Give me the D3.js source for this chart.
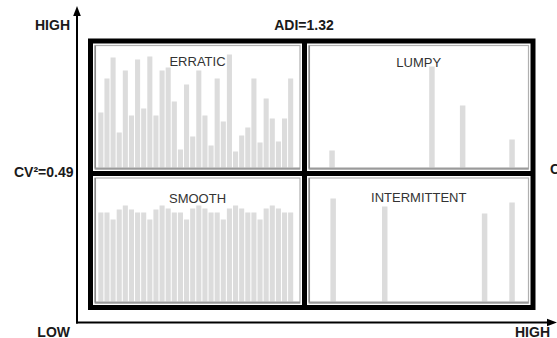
<!DOCTYPE html>
<html><head><meta charset="utf-8">
<script src="https://cdn.jsdelivr.net/npm/d3@7"></script>
<style>body{margin:0;background:#fff}svg{display:block}text{font-family:"Liberation Sans",Arial,Helvetica,sans-serif}</style>
</head><body>
<script>
// ---- data ----
const periods = d3.range(1, 33);
const erraticValues = [55,89,110,35,97,52,108,59,111,52,97,100,66,18,83,31,97,52,22,89,46,113,16,32,40,89,25,69,49,26,49,89];
const smoothValues  = [89,89,82,92,96,92,89,89,82,92,96,93,89,89,82,93,96,93,89,89,82,93,96,93,89,89,82,93,96,93,89,89];
const lumpyDays = [10.5, 56, 70, 92.5];
const lumpyValues = [17, 101, 62, 28];
const intermittentDays = [11, 34.5, 80, 92.5];
const intermittentValues = [103, 95, 88, 99];
const quadrantLabels = ["ERRATIC", "LUMPY", "SMOOTH", "INTERMITTENT"];
const adiLabel = "ADI=1.32";
const cvLabel = "CV\u00B2=0.49";
const highLabel = "HIGH";
const lowLabel = "LOW";

// ---- layout ----
const W = 557, H = 338;
const x0 = 90.5, xm = 304.5, x1 = 533, y0 = 41, ym = 173.5, y1 = 307.5;
const svg = d3.select("body").append("svg").attr("width", W).attr("height", H);

const quads = [
  {name: quadrantLabels[0], qx0: x0, qx1: xm, qy0: y0, qy1: ym, type: "band", values: erraticValues, ly: 25.3},
  {name: quadrantLabels[1], qx0: xm, qx1: x1, qy0: y0, qy1: ym, type: "days", days: lumpyDays, values: lumpyValues, ly: 25.5},
  {name: quadrantLabels[2], qx0: x0, qx1: xm, qy0: ym, qy1: y1, type: "band", values: smoothValues, ly: 29.5},
  {name: quadrantLabels[3], qx0: xm, qx1: x1, qy0: ym, qy1: y1, type: "days", days: intermittentDays, values: intermittentValues, ly: 28.5}
];

const barFill = "#dcdcdc";

quads.forEach(q => {
  const g = svg.append("g");
  const base = q.qy1 - 6;
  const y = d3.scaleLinear().domain([0, 120]).range([base, base - 120]);
  g.append("rect")
    .attr("x", q.qx0 + 4.5).attr("y", q.qy0 + 4.5)
    .attr("width", q.qx1 - q.qx0 - 9).attr("height", q.qy1 - q.qy0 - 9)
    .attr("fill", "none").attr("stroke", "#b0b0b0").attr("stroke-width", 1.2);
  if (q.type === "band") {
    const x = d3.scaleBand().domain(periods).range([q.qx0 + 7.5, q.qx0 + 203]).paddingInner(0.17).paddingOuter(0.05);
    g.selectAll("rect.bar").data(q.values).join("rect").attr("class", "bar")
      .attr("x", (d, i) => x(periods[i])).attr("width", x.bandwidth())
      .attr("y", d => y(d)).attr("height", d => y(0) - y(d))
      .attr("fill", barFill);
  } else {
    const x = d3.scaleLinear().domain([0, 100]).range([q.qx0 + 4.5, q.qx1 - 4.5]);
    const bw = 5.5;
    g.selectAll("rect.bar").data(q.values).join("rect").attr("class", "bar")
      .attr("x", (d, i) => x(q.days[i]) - bw / 2).attr("width", bw)
      .attr("y", d => y(d)).attr("height", d => y(0) - y(d))
      .attr("fill", barFill);
  }
  g.append("line").attr("x1", q.qx0 + 4.5).attr("x2", q.qx1 - 4.5)
    .attr("y1", base + 1).attr("y2", base + 1).attr("stroke", "#9a9a9a").attr("stroke-width", 2);
  g.append("line").attr("x1", q.qx0 + 4.8).attr("x2", q.qx0 + 4.8)
    .attr("y1", q.qy0 + 4.5).attr("y2", base + 1).attr("stroke", "#8a8a8a").attr("stroke-width", 1.5);
  g.append("text").attr("x", (q.qx0 + q.qx1) / 2).attr("y", q.qy0 + q.ly)
    .attr("text-anchor", "middle").attr("font-size", 13).attr("fill", "#333").text(q.name);
});

svg.append("rect").attr("x", x0).attr("y", y0).attr("width", x1 - x0).attr("height", y1 - y0)
  .attr("fill", "none").attr("stroke", "#000").attr("stroke-width", 5);
svg.append("line").attr("x1", xm).attr("x2", xm).attr("y1", y0).attr("y2", y1).attr("stroke", "#000").attr("stroke-width", 5);
svg.append("line").attr("x1", x0).attr("x2", x1).attr("y1", ym).attr("y2", ym).attr("stroke", "#000").attr("stroke-width", 5);

const ax = 77, ay = 322.5;
svg.append("line").attr("x1", ax).attr("x2", ax).attr("y1", ay + 1).attr("y2", 14).attr("stroke", "#000").attr("stroke-width", 2);
svg.append("path").attr("d", `M${ax},6 L${ax - 3.8},16 L${ax + 3.8},16 Z`).attr("fill", "#000");
svg.append("line").attr("x1", ax - 1).attr("x2", 549).attr("y1", ay).attr("y2", ay).attr("stroke", "#000").attr("stroke-width", 2);
svg.append("path").attr("d", `M557,${ay} L547,${ay - 3.8} L547,${ay + 3.8} Z`).attr("fill", "#000");

const bold = s => s.attr("font-weight", "bold").attr("font-size", 14).attr("fill", "#1a1a1a");
svg.append("text").attr("x", 70).attr("y", 29.5).attr("text-anchor", "end").text(highLabel).call(bold);
svg.append("text").attr("x", 304).attr("y", 29.5).attr("text-anchor", "middle").text(adiLabel).call(bold);
svg.append("text").attr("x", 73.5).attr("y", 177).attr("text-anchor", "end").text(cvLabel).call(bold);
svg.append("text").attr("x", 550).attr("y", 174).attr("text-anchor", "start").text(cvLabel).call(bold);
svg.append("text").attr("x", 70).attr("y", 336.5).attr("text-anchor", "end").text(lowLabel).call(bold);
svg.append("text").attr("x", 550).attr("y", 336.5).attr("text-anchor", "end").text(highLabel).call(bold);
</script>
</body></html>
